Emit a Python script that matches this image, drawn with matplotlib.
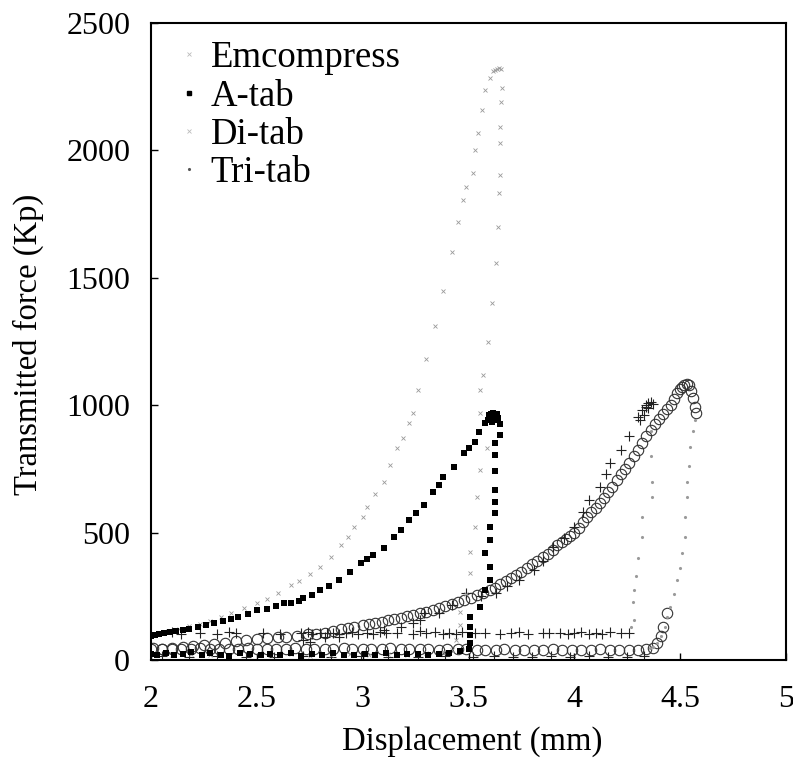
import matplotlib
matplotlib.use('Agg')
import matplotlib.pyplot as plt
from matplotlib.lines import Line2D

plt.rcParams['font.family'] = ['Liberation Serif', 'DejaVu Serif']

# Emcompress: нагрузка, разгрузка, возврат у нуля
emc_x = [2.00, 2.04, 2.08, 2.13, 2.18, 2.23, 2.28, 2.33, 2.38, 2.44, 2.50, 2.55,
         2.60, 2.66, 2.70, 2.75, 2.80, 2.85, 2.90, 2.93, 2.96, 3.00, 3.02, 3.06,
         3.10, 3.13, 3.16, 3.19, 3.22, 3.24, 3.26, 3.30, 3.34, 3.38, 3.42, 3.45,
         3.475, 3.49, 3.52, 3.53, 3.546, 3.562, 3.578, 3.60, 3.615, 3.625, 3.635,
         3.645, 3.655,
         3.657, 3.652, 3.649, 3.649, 3.649, 3.645, 3.64, 3.63, 3.61, 3.59, 3.57,
         3.554, 3.554, 3.586, 3.554, 3.54, 3.53, 3.507, 3.507, 3.49, 3.46, 3.46,
         3.44, 3.42,
         2.02, 2.10, 2.19, 2.28, 2.37, 2.47, 2.56, 2.66, 2.75, 2.85, 2.94, 3.03,
         3.12, 3.21, 3.30, 3.38]
emc_f = [100, 106, 113, 122, 132, 143, 155, 170, 183, 203, 222, 240,
         262, 294, 312, 338, 366, 405, 450, 484, 523, 560, 602, 650,
         700, 765, 831, 871, 930, 969, 1060, 1180, 1310, 1450, 1600, 1720,
         1805, 1858, 1911, 2002, 2068, 2159, 2237, 2285, 2310, 2316, 2320,
         2322, 2318,
         2245, 2190, 2093, 2028, 1903, 1832, 1700, 1560, 1400, 1250, 1120,
         1060, 969, 831, 746, 640, 523, 425, 341, 260, 190, 137,
         80, 40,
         22, 18, 25, 20, 17, 24, 19, 22, 16, 21, 25, 18,
         22, 19, 26, 30]

# A-tab
atab_x = [2.00, 2.01, 2.02, 2.04, 2.06, 2.09, 2.12, 2.15, 2.18, 2.22, 2.26, 2.30,
          2.34, 2.38, 2.41, 2.46, 2.50, 2.55, 2.59, 2.63, 2.66, 2.70, 2.72, 2.76,
          2.80, 2.84, 2.89, 2.94, 2.99, 3.02, 3.05, 3.10, 3.15, 3.18, 3.22, 3.25,
          3.29, 3.33, 3.36, 3.38, 3.43, 3.48, 3.50, 3.53, 3.55, 3.58, 3.59, 3.60,
          3.61, 3.62, 3.63, 3.64,
          3.595, 3.605, 3.615, 3.625, 3.60, 3.62, 3.635, 3.61,
          3.65, 3.65, 3.625, 3.625, 3.625, 3.625, 3.625, 3.625, 3.60, 3.60,
          3.578, 3.60, 3.60, 3.578, 3.554, 3.507, 3.507, 3.507, 3.507, 3.50,
          2.00, 2.03, 2.07, 2.11, 2.15, 2.19, 2.24, 2.28, 2.33, 2.37, 2.42, 2.47,
          2.52, 2.56, 2.61, 2.66, 2.71, 2.76, 2.81, 2.86, 2.91, 2.96, 3.01, 3.06,
          3.11, 3.16, 3.21, 3.26, 3.31, 3.36, 3.41, 3.46]
atab_f = [96, 98, 100, 102, 105, 111, 114, 118, 122, 128, 137, 145,
          154, 162, 170, 180, 196, 200, 212, 222, 225, 232, 242, 256,
          275, 292, 314, 347, 379, 395, 412, 438, 484, 510, 549, 576,
          608, 661, 687, 719, 759, 811, 831, 857, 896, 930, 942, 950,
          955, 962, 958, 949,
          960, 965, 968, 962, 945, 940, 965, 935,
          925, 883, 851, 804, 740, 667, 620, 576, 523, 471,
          419, 366, 314, 275, 209, 170, 130, 100, 66, 45,
          25, 20, 28, 18, 24, 30, 19, 26, 21, 17, 27, 22,
          18, 25, 20, 28, 17, 23, 19, 26, 21, 18, 24, 20,
          27, 19, 22, 25, 18, 24, 28, 35]

# Di-tab (кружки): нагрузка, спуск у 4.4 мм, возврат у нуля
ditab_x = [2.00, 2.05, 2.10, 2.15, 2.20, 2.25, 2.30, 2.35, 2.40, 2.45, 2.50, 2.55,
           2.60, 2.64, 2.69, 2.74, 2.78, 2.82, 2.86, 2.90, 2.93, 2.96, 3.00, 3.03,
           3.06, 3.09, 3.12, 3.15, 3.18, 3.21, 3.24, 3.27, 3.30, 3.33, 3.36, 3.39,
           3.42, 3.45, 3.48, 3.51, 3.54, 3.57, 3.60, 3.625, 3.65, 3.675, 3.70, 3.725,
           3.75, 3.775, 3.80, 3.825, 3.85, 3.875, 3.90, 3.92, 3.94, 3.96, 3.98, 4.00,
           4.02, 4.04, 4.06, 4.08, 4.10, 4.12, 4.14, 4.16, 4.18, 4.20, 4.22, 4.24,
           4.26, 4.28, 4.30, 4.32, 4.34, 4.36, 4.38, 4.40, 4.42, 4.44, 4.455, 4.47,
           4.485, 4.50, 4.51, 4.52, 4.53, 4.54, 4.55, 4.56, 4.57, 4.575,
           4.436, 4.42, 4.41, 4.39, 4.37,
           4.34, 4.30, 4.26, 4.21, 4.17, 4.12, 4.08, 4.03, 3.99, 3.94, 3.90, 3.85,
           3.81, 3.76, 3.72, 3.67, 3.63, 3.58, 3.54, 3.49, 3.45, 3.40, 3.36, 3.31,
           3.27, 3.22, 3.18, 3.13, 3.09, 3.04, 3.00, 2.95, 2.91, 2.86, 2.82, 2.77,
           2.73, 2.68, 2.64, 2.59, 2.55, 2.50, 2.46, 2.41, 2.37, 2.32, 2.28, 2.23,
           2.19, 2.14, 2.10, 2.05, 2.01]
ditab_f = [42, 45, 48, 50, 55, 59, 63, 68, 73, 78, 82, 86,
           89, 92, 96, 101, 104, 108, 114, 120, 125, 130, 136, 141,
           146, 151, 157, 161, 166, 172, 178, 184, 190, 196, 203, 211,
           219, 227, 236, 245, 254, 264, 274, 284, 298, 310, 322, 333,
           346, 362, 377, 390, 404, 418, 432, 450, 462, 474, 488, 500,
           520, 540, 562, 580, 597, 615, 637, 658, 680, 706, 730, 748,
           772, 800, 824, 850, 878, 904, 925, 945, 965, 985, 1000, 1025,
           1048, 1065, 1073, 1079, 1082, 1078, 1055, 1030, 994, 970,
           183, 131, 95, 65, 48,
           42, 40, 41, 39, 40, 42, 40, 39, 41, 40, 42, 40,
           39, 41, 40, 42, 40, 39, 41, 43, 42, 44, 41, 43,
           45, 42, 44, 46, 43, 45, 42, 44, 46, 43, 45, 42,
           44, 46, 43, 45, 42, 44, 46, 43, 45, 42, 44, 46,
           43, 45, 42, 44, 46]
# Di-tab: разгрузка (бледные точки)
ditab_unload_x = [4.57, 4.56, 4.546, 4.54, 4.53, 4.53, 4.525, 4.522, 4.51, 4.50,
                  4.483, 4.47, 4.452, 4.44, 4.428, 4.41, 4.389, 4.37, 4.357]
ditab_unload_f = [940, 900, 837, 760, 700, 641, 560, 484, 420, 360,
                  314, 260, 209, 170, 131, 95, 66, 52, 46]

# Tri-tab (плюсы)
tritab_x = [2.72, 2.75, 2.82, 2.89,
            3.10, 3.18, 3.24, 3.27, 3.29, 3.36, 3.42, 3.49, 3.56, 3.63, 3.68, 3.74,
            3.81, 3.85, 3.90, 3.95, 4.00, 4.04, 4.07, 4.12, 4.15, 4.17, 4.22, 4.26,
            4.30, 4.32, 4.34, 4.35, 4.36, 4.34, 4.37, 4.33, 4.35, 4.31,
            4.26, 4.22, 4.17, 4.13, 4.10, 4.07, 4.03, 4.00, 3.97, 3.93, 3.88, 3.85,
            3.78, 3.74, 3.70, 3.65, 3.58, 3.53, 3.47, 3.44, 3.41, 3.38, 3.34, 3.30,
            3.27, 3.24, 3.16, 3.11, 3.08, 3.05, 3.02, 2.98, 2.95, 2.92, 2.89, 2.86,
            2.83, 2.80, 2.76, 2.74, 2.71, 2.61, 2.53, 2.40, 2.37, 2.31, 2.23, 2.14,
            2.10,
            2.05, 2.18, 2.31, 2.45, 2.58, 2.72, 2.85, 2.99, 3.12, 3.26, 3.39, 3.52,
            3.62, 3.71, 3.80, 3.89, 3.98, 4.07, 4.16, 4.25, 4.33]
tritab_f = [80, 72, 92, 92,
            118, 128, 144, 157, 183, 183, 215, 262, 250, 262, 290, 314,
            353, 390, 445, 480, 523, 580, 628, 680, 730, 772, 824, 880,
            955, 980, 994, 1010, 1014, 1000, 1005, 960, 990, 940,
            108, 105, 110, 104, 107, 103, 109, 106, 104, 108, 105, 107,
            104, 109, 106, 103, 108, 105, 110, 104, 107, 103, 109, 106,
            112, 104, 108, 105, 110, 104, 107, 103, 109, 106, 104, 108,
            105, 107, 104, 109, 106, 103, 108, 105, 110, 104, 107, 103,
            110,
            14, 12, 15, 11, 13, 14, 12, 15, 11, 13, 14, 12,
            15, 11, 13, 14, 12, 15, 11, 13, 14]
# Tri-tab: разгрузка (бледные точки)
tritab_unload_x = [4.36, 4.36, 4.365, 4.365, 4.32, 4.32, 4.30, 4.29, 4.28, 4.275,
                   4.28, 4.27]
tritab_unload_f = [900, 800, 700, 641, 562, 484, 400, 330, 275, 228, 157, 130]

x_ticks = [2, 2.5, 3, 3.5, 4, 4.5, 5]
x_tick_labels = ['2', '2.5', '3', '3.5', '4', '4.5', '5']
y_ticks = [0, 500, 1000, 1500, 2000, 2500]
legend_labels = ['Emcompress', 'A-tab', 'Di-tab', 'Tri-tab']

fig = plt.figure(figsize=(7.93, 7.64), dpi=100)
ax = fig.add_axes([0.1904, 0.1361, 0.8008, 0.8338])

grey = '#9a9a9a'
ax.plot(ditab_x, ditab_f, 'o', ms=7.5, mfc='none', mec='#333333', mew=0.8)
ax.plot(ditab_unload_x, ditab_unload_f, '.', ms=2.5, color=grey)
ax.plot(tritab_x, tritab_f, '+', ms=7, color='#222222', mew=0.8)
ax.plot(tritab_unload_x, tritab_unload_f, '.', ms=2.5, color=grey)
ax.plot(emc_x, emc_f, 'x', ms=3, color=grey, mew=0.6)
ax.plot(atab_x, atab_f, 's', ms=4, color='black', mew=0)

ax.set_xlim(2, 5)
ax.set_ylim(0, 2500)
ax.set_xticks(x_ticks)
ax.set_xticklabels(x_tick_labels)
ax.set_yticks(y_ticks)
ax.tick_params(axis='both', direction='in', length=5, width=1, labelsize=23)
ax.tick_params(axis='x', pad=18)
ax.tick_params(axis='y', pad=15)
for sp in ax.spines.values():
    sp.set_linewidth(1.5)

fig.text(472 / 793, 1 - 742 / 764, 'Displacement (mm)', ha='center', va='center', fontsize=23.5)
fig.text(28 / 793, 1 - 344 / 764, 'Transmitted force (Kp)', ha='center', va='center',
         rotation=90, fontsize=23.5)

handles = [
    Line2D([], [], ls='none', marker='x', ms=3, color='#bbbbbb', mew=0.6),
    Line2D([], [], ls='none', marker='s', ms=3.5, color='black'),
    Line2D([], [], ls='none', marker='x', ms=3, color='#bbbbbb', mew=0.6),
    Line2D([], [], ls='none', marker='.', ms=2.5, color='#555555'),
]
ax.legend(handles, legend_labels, loc='upper left', bbox_to_anchor=(0.042, 0.972),
          frameon=False, fontsize=26.5, handlelength=0.6, handletextpad=0.3,
          labelspacing=0.1, borderaxespad=0, borderpad=0)

plt.savefig('out.png', dpi=100)
